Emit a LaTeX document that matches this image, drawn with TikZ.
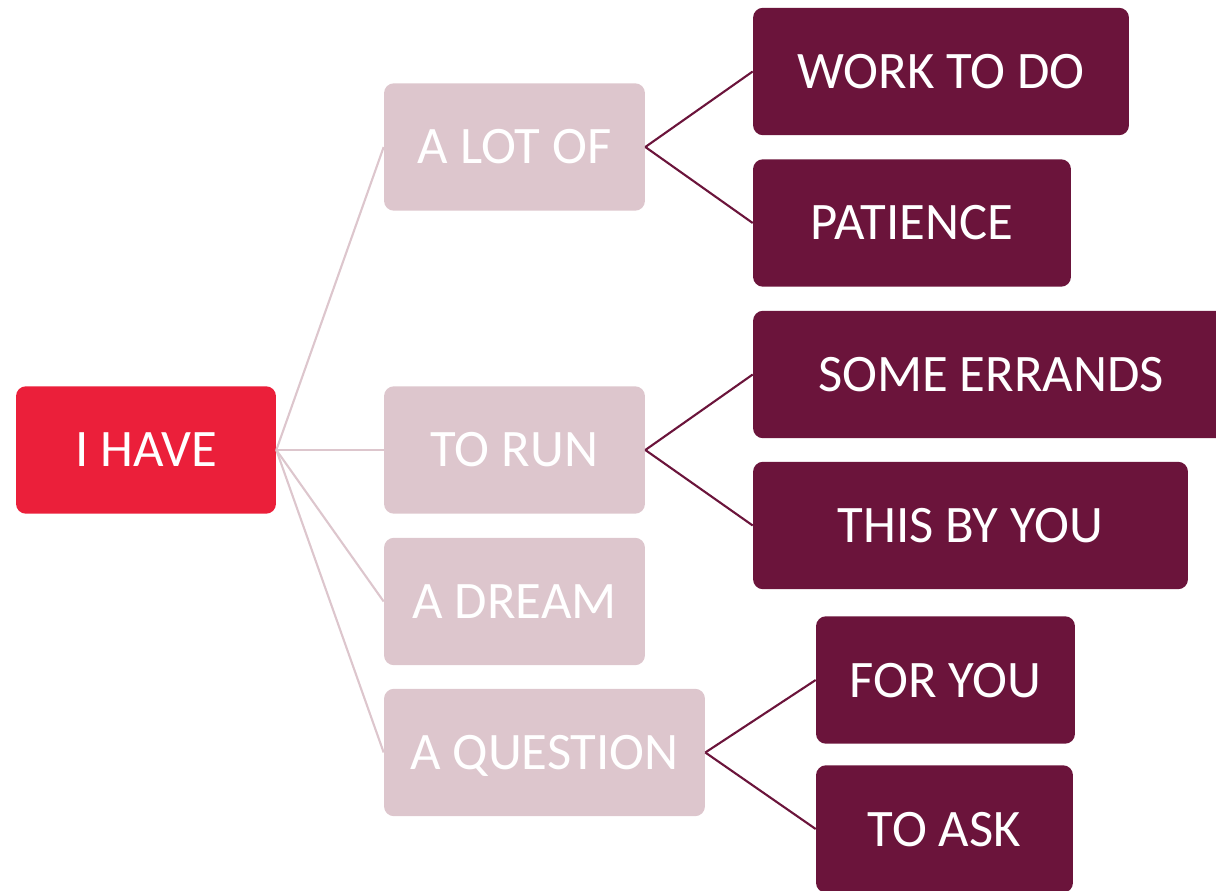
\documentclass[tikz,border=0pt]{standalone}
\usepackage{fontspec}
\setmainfont{Carlito}
\usetikzlibrary{positioning}
\definecolor{haveRed}{HTML}{EB1F3A}
\definecolor{havePink}{HTML}{DDC6CD}
\definecolor{haveWine}{HTML}{6B143B}

\begin{document}
\begin{tikzpicture}[x=0.02cm, y=-0.02cm,
    box/.style={rounded corners=0.2cm, text=white, inner sep=0pt,
                minimum height=2.55cm, text height=0.68cm, text depth=0cm,
                font=\fontsize{30}{36}\selectfont},
    root/.style={box, fill=haveRed},
    middle/.style={box, fill=havePink},
    leaf/.style={box, fill=haveWine},
    pinkline/.style={havePink, line width=1.2pt},
    wineline/.style={haveWine, line width=1.2pt}]
    \useasboundingbox (0,0) rectangle (1216,891);
    % level 1
    \node [root, minimum width=5.2cm] (ihave) at (146,450) {I HAVE};
    % level 2
    \node [middle, minimum width=5.22cm] (alotof) at (514.5,147) {A LOT OF};
    \node [middle, minimum width=5.22cm] (torun) at (514.5,450) {TO RUN};
    \node [middle, minimum width=5.22cm] (adream) at (514.5,601.5) {A DREAM};
    \node [middle, minimum width=6.42cm] (aquestion) at (544.5,752.5) {A QUESTION};
    % level 3
    \node [leaf, minimum width=7.52cm] (worktodo) at (941,71.5) {WORK TO DO};
    \node [leaf, minimum width=6.36cm] (patience) at (912,223) {PATIENCE};
    \node [leaf, minimum width=9.52cm] (errands) at (991,374.5) {SOME ERRANDS};
    \node [leaf, minimum width=8.7cm] (thisbyyou) at (970.5,525.5) {THIS BY YOU};
    \node [leaf, minimum width=5.18cm] (foryou) at (945.5,680) {FOR YOU};
    \node [leaf, minimum width=5.14cm] (toask) at (944.5,829) {TO ASK};
    % connectors
    \foreach \to in {alotof, torun, adream, aquestion}
        \draw [pinkline] (ihave.east) -- (\to.west);
    \draw [wineline] (alotof.east) -- (worktodo.west);
    \draw [wineline] (alotof.east) -- (patience.west);
    \draw [wineline] (torun.east) -- (errands.west);
    \draw [wineline] (torun.east) -- (thisbyyou.west);
    \draw [wineline] (aquestion.east) -- (foryou.west);
    \draw [wineline] (aquestion.east) -- (toask.west);
\end{tikzpicture}
\end{document}
